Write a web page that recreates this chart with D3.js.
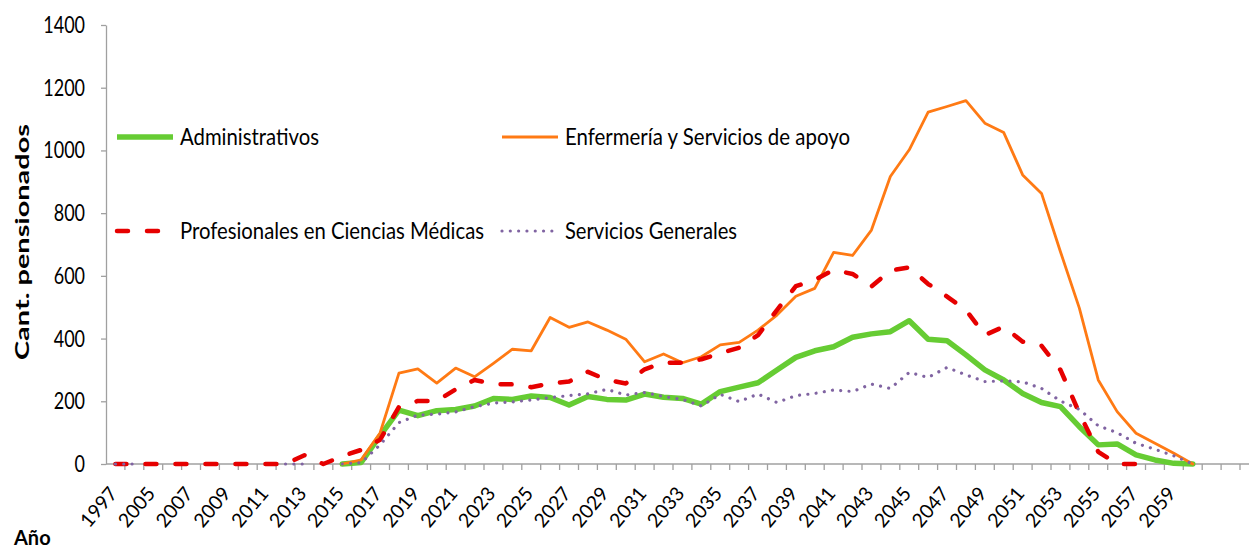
<!DOCTYPE html>
<html>
<head>
<meta charset="utf-8">
<script src="https://cdn.jsdelivr.net/npm/d3@7"></script>
<style>
  body { margin: 0; background: #fff; }
  text { font-family: Lato, "Open Sans", sans-serif; fill: #000; }
</style>
</head>
<body>
<div id="wrapper"></div>
<script>
// categorias del eje x (las tres ultimas van sin rotulo)
const years = ["1997","2004","2005","2006","2007","2008","2009","2010","2011","2012",
    "2013","2014","2015","2016","2017","2018","2019","2020","2021","2022",
    "2023","2024","2025","2026","2027","2028","2029","2030","2031","2032",
    "2033","2034","2035","2036","2037","2038","2039","2040","2041","2042",
    "2043","2044","2045","2046","2047","2048","2049","2050","2051","2052",
    "2053","2054","2055","2056","2057","2058","2059","2060","","",""];

const administrativos = [null,null,null,null,null,null,null,null,null,null,
    null,null,0,5,90,172,154,170,174,185,
    209,206,217,212,188,215,206,204,223,213,
    209,191,231,245,259,300,340,361,374,404,
    415,422,457,398,393,348,300,268,225,196,
    183,119,61,64,29,13,2,0,null,null,null];

const enfermeria = [null,null,null,null,null,null,null,null,null,null,
    null,null,0,13,99,290,303,258,306,278,
    321,366,361,467,436,453,427,398,326,351,
    323,342,380,388,427,475,535,560,675,665,
    746,917,1002,1122,1140,1159,1087,1057,922,863,
    677,497,268,167,98,66,34,0,null,null,null];

const profesionales = [0,0,0,0,0,0,0,0,0,0,
    28,0,25,45,77,182,201,201,238,268,
    255,254,245,257,263,294,268,257,302,323,
    323,334,353,371,411,491,567,587,619,606,
    566,617,627,574,534,491,411,438,390,377,
    300,162,39,0,0,null,null,null,null,null,null];

const serviciosGenerales = [0,0,null,null,null,null,null,null,null,0,
    0,null,0,4,61,132,156,159,166,183,
    194,198,204,212,218,224,238,220,228,215,
    206,185,222,199,223,196,218,225,236,231,
    255,241,292,276,308,284,263,265,262,241,
    201,174,122,100,66,47,26,0,null,null,null];

const yTicks = [0,200,400,600,800,1000,1200,1400];

const series = [
    {name: "Administrativos", values: administrativos, color: "#66CC33", width: 5.5, dash: null},
    {name: "Enfermería y Servicios de apoyo", values: enfermeria, color: "#FF7A14", width: 2.8, dash: null},
    {name: "Profesionales en Ciencias Médicas", values: profesionales, color: "#E60000", width: 4.5, dash: "11,19"},
    {name: "Servicios Generales", values: serviciosGenerales, color: "#8064A2", width: 3.2, dash: "0.01,8.3"}
];

const dimension = {width: 1249, height: 550, margin: {top: 25, left: 106, bottom: 86}};
const plotBottom = dimension.height - dimension.margin.bottom;

const svg = d3.select("#wrapper").append("svg")
    .attr("width", dimension.width)
    .attr("height", dimension.height);

const x = d3.scaleBand()
    .domain(d3.range(years.length))
    .range([dimension.margin.left, dimension.margin.left + years.length * 18.9])
    .padding(0);
const bw = x.bandwidth();

const y = d3.scaleLinear()
    .domain([0, 1400])
    .range([plotBottom, dimension.margin.top]);

// eje y
const yAxis = svg.append("g")
    .attr("transform", `translate(${dimension.margin.left},0)`)
    .call(d3.axisLeft(y).tickValues(yTicks).tickFormat(d3.format("d"))
        .tickSize(5).tickPadding(16).tickSizeOuter(0));
yAxis.select(".domain").attr("stroke", "#A0A0A0").attr("stroke-width", 1.3);
yAxis.selectAll(".tick line").attr("stroke", "#A0A0A0").attr("stroke-width", 1.3);
yAxis.selectAll(".tick text")
    .style("font-size", "18px")
    .attr("fill", "#000")
    .attr("transform", "scale(1,1.3)");

// eje x
const xAxis = svg.append("g");
xAxis.append("line")
    .attr("x1", dimension.margin.left).attr("x2", dimension.width)
    .attr("y1", plotBottom).attr("y2", plotBottom)
    .attr("stroke", "#A0A0A0").attr("stroke-width", 1.3);
xAxis.selectAll(".xtick")
    .data(d3.range(1, years.length + 1))
    .enter().append("line")
    .attr("x1", i => dimension.margin.left + i * bw)
    .attr("x2", i => dimension.margin.left + i * bw)
    .attr("y1", plotBottom).attr("y2", plotBottom + 6)
    .attr("stroke", "#A0A0A0").attr("stroke-width", 1.3);

const labelIdx = d3.range(years.length).filter(i => years[i] !== "" && i % 2 === 0);
xAxis.selectAll(".xlabel")
    .data(labelIdx)
    .enter().append("text")
    .attr("transform", i => `translate(${x(i) + bw / 2 + 3},${plotBottom + 30}) rotate(-50)`)
    .style("text-anchor", "end")
    .style("font-size", "19.5px")
    .text(i => years[i]);

// lineas
const line = d3.line()
    .defined(d => d != null)
    .x((d, i) => x(i) + bw / 2)
    .y(d => y(d));

series.forEach(s => {
    svg.append("path")
        .datum(s.values)
        .attr("fill", "none")
        .attr("stroke", s.color)
        .attr("stroke-width", s.width)
        .attr("stroke-linecap", "round")
        .attr("stroke-linejoin", "round")
        .attr("stroke-dasharray", s.dash)
        .attr("d", line);
});

// leyenda
const legendPos = [
    {x: 117, y: 137, w: 139}, {x: 502, y: 137, w: 285},
    {x: 117, y: 231, w: 304}, {x: 502, y: 231, w: 172}
];
series.forEach((s, k) => {
    const p = legendPos[k];
    const g = svg.append("g").attr("transform", `translate(${p.x},${p.y})`);
    g.append("line")
        .attr("x1", 0).attr("x2", 56)
        .attr("stroke", s.color)
        .attr("stroke-width", s.width)
        .attr("stroke-linecap", s.dash ? "round" : "butt")
        .attr("stroke-dasharray", s.dash);
    g.append("text")
        .attr("x", 63)
        .attr("dy", "0.35em")
        .attr("transform", "scale(1,1.2)")
        .attr("textLength", p.w)
        .attr("lengthAdjust", "spacingAndGlyphs")
        .style("font-size", "20px")
        .text(s.name);
});

// titulos de ejes
svg.append("text")
    .attr("transform", "translate(29,242) rotate(-90)")
    .attr("textLength", 236)
    .attr("lengthAdjust", "spacingAndGlyphs")
    .style("text-anchor", "middle")
    .style("font-size", "18px")
    .style("font-weight", "bold")
    .text("Cant. pensionados");

svg.append("text")
    .attr("x", 14).attr("y", 545)
    .style("font-size", "20px")
    .style("font-weight", "bold")
    .text("Año");
</script>
</body>
</html>
